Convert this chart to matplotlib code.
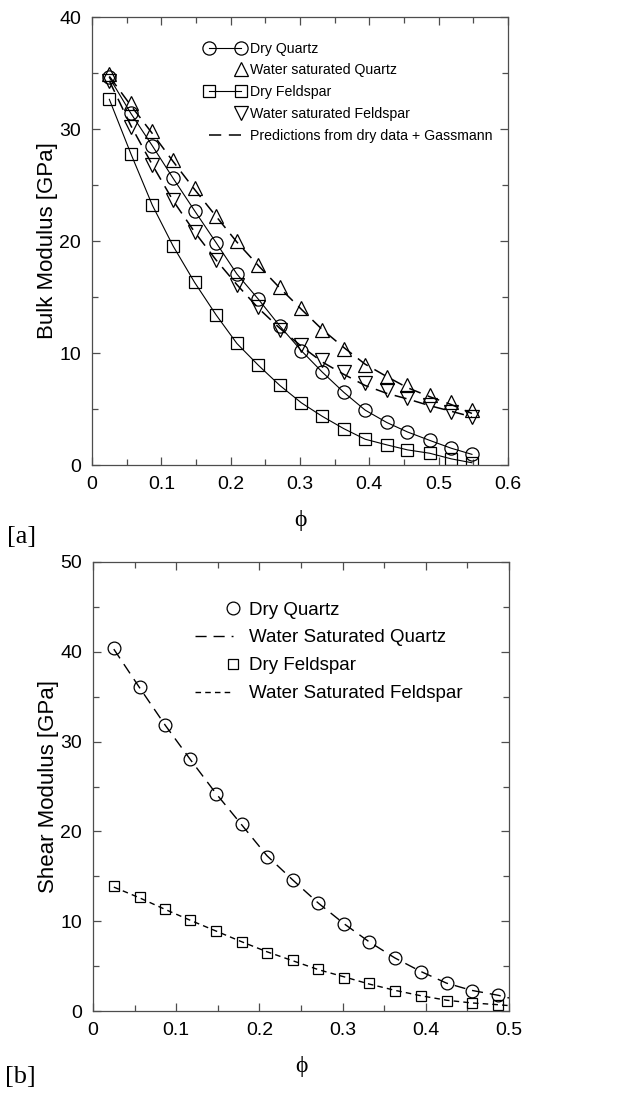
import numpy as np
import matplotlib
matplotlib.use('Agg')
from matplotlib import pyplot
from matplotlib.ticker import MultipleLocator, FormatStrFormatter
from matplotlib.legend_handler import HandlerLine2D


# (a) bulk modulus vs porosity
phi_a        = [0.025, 0.056, 0.087, 0.117, 0.148, 0.179, 0.209, 0.240, 0.271,
                0.302, 0.332, 0.363, 0.394, 0.425, 0.455, 0.487, 0.518, 0.548]
K_dry_qtz    = [34.6, 31.4, 28.5, 25.6, 22.7, 19.85, 17.05, 14.8, 12.4,
                10.2, 8.3, 6.5, 4.9, 3.8, 2.95, 2.2, 1.5, 0.95]
K_wet_qtz    = [34.9, 32.3, 29.8, 27.2, 24.7, 22.2, 20.0, 17.9, 15.9,
                14.0, 12.05, 10.4, 8.9, 7.9, 7.1, 6.25, 5.65, 4.9]
K_dry_fsp    = [32.65, 27.8, 23.2, 19.55, 16.3, 13.4, 10.85, 8.9, 7.1,
                5.55, 4.35, 3.25, 2.3, 1.8, 1.35, 1.05, 0.55, 0.2]
K_wet_fsp    = [34.3, 30.2, 26.8, 23.65, 20.8, 18.3, 16.1, 14.1, 12.05,
                10.7, 9.4, 8.3, 7.3, 6.7, 5.95, 5.35, 4.75, 4.3]
K_gass_qtz   = [34.7, 32.1, 29.6, 27.1, 24.6, 22.2, 19.9, 17.8, 15.8,
                13.9, 12.1, 10.5, 9.0, 7.9, 6.9, 6.1, 5.4, 4.6]
K_gass_fsp   = [34.3, 30.3, 26.8, 23.6, 20.8, 18.3, 16.1, 14.0, 12.2,
                10.6, 9.2, 8.1, 7.1, 6.4, 5.9, 5.3, 4.8, 4.3]

# (b) shear modulus vs porosity
phi_b        = [0.025, 0.056, 0.087, 0.117, 0.148, 0.179, 0.209, 0.240,
                0.271, 0.302, 0.332, 0.363, 0.394, 0.425, 0.455, 0.487]
phi_b_wet    = phi_b + [0.5]
G_dry_qtz    = [40.4, 36.1, 31.85, 28.1, 24.2, 20.8, 17.2, 14.6,
                12.0, 9.7, 7.7, 5.85, 4.3, 3.1, 2.25, 1.8]
G_dry_fsp    = [13.9, 12.65, 11.35, 10.1, 8.9, 7.7, 6.5, 5.7,
                4.65, 3.7, 3.1, 2.25, 1.7, 1.15, 0.85, 0.65]
G_wet_qtz    = [40.3, 36.0, 31.8, 28.0, 24.2, 20.7, 17.3, 14.6,
                12.0, 9.7, 7.7, 5.9, 4.4, 3.1, 2.3, 1.75, 1.45]
G_wet_fsp    = [13.8, 12.6, 11.3, 10.1, 8.9, 7.7, 6.6, 5.6,
                4.6, 3.8, 3.0, 2.3, 1.7, 1.2, 0.9, 0.7, 0.6]


class RightMarker(HandlerLine2D):
	# legend entry with a single marker at the right end of the handle
	def create_artists(self, *args, **kwargs):
		arts = super().create_artists(*args, **kwargs)
		arts[-1].set_markevery([1])
		return arts


sans   = ['Liberation Sans', 'DejaVu Sans']
serif  = ['Liberation Serif', 'DejaVu Serif']
spc    = '0.3'

pyplot.rcParams['font.family'] = sans
fig = pyplot.figure(figsize=(6.44, 10.93), dpi=100)
axa = fig.add_axes([92/644, 1-465/1093, 416/644, 448/1093])
axb = fig.add_axes([93/644, 1-1011/1093, 416/644, 449/1093])

def style(ax):
	for s in ax.spines.values():
		s.set_color(spc); s.set_linewidth(0.9)
	ax.tick_params(which='both', direction='in', top=True, right=True, color=spc, width=0.9)
	ax.tick_params(which='major', length=6, labelsize=14, pad=8)
	ax.tick_params(which='minor', length=4)
	ax.xaxis.set_major_formatter(FormatStrFormatter('%g'))
	ax.yaxis.set_major_formatter(FormatStrFormatter('%g'))
	ax.xaxis.set_major_locator(MultipleLocator(0.1))
	ax.xaxis.set_minor_locator(MultipleLocator(0.05))
	ax.yaxis.set_major_locator(MultipleLocator(10))
	ax.yaxis.set_minor_locator(MultipleLocator(5))

### panel (a)
mk = dict(mfc='none', mec='k', mew=0.9)
h1, = axa.plot(phi_a, K_dry_qtz, 'o-', color='k', lw=0.8, ms=9.5, label='Dry Quartz', **mk)
h2, = axa.plot(phi_a, K_wet_qtz, '^', ms=10, label='Water saturated Quartz', **mk)
h3, = axa.plot(phi_a, K_dry_fsp, 's-', color='k', lw=0.8, ms=8, label='Dry Feldspar', **mk)
h4, = axa.plot(phi_a, K_wet_fsp, 'v', ms=10, label='Water saturated Feldspar', **mk)
h5, = axa.plot(phi_a, K_gass_qtz, color='k', lw=1.1, dashes=(8, 5), label='Predictions from dry data + Gassmann')
axa.plot(phi_a, K_gass_fsp, color='k', lw=1.1, dashes=(8, 5))
style(axa)
axa.set_xlim(0, 0.6); axa.set_ylim(0, 40)
axa.set_ylabel('Bulk Modulus [GPa]', size=16, labelpad=1)
axa.set_xlabel('ϕ', size=17, family=serif, labelpad=12)
axa.legend(handles=[h1, h2, h3, h4, h5], loc='upper left', bbox_to_anchor=(0.272, 0.945),
           frameon=False, numpoints=2, handlelength=2.85, handletextpad=0.3, labelspacing=0.55,
           borderpad=0, borderaxespad=0, prop=dict(family=sans, size=10.2),
           handler_map={h2: RightMarker(), h4: RightMarker()})

### panel (b)
g1, = axb.plot(phi_b, G_dry_qtz, 'o', ms=9.2, label='Dry Quartz', **mk)
g2, = axb.plot(phi_b_wet, G_wet_qtz, color='k', lw=1.0, dashes=(8, 5), label='Water Saturated Quartz')
g3, = axb.plot(phi_b, G_dry_fsp, 's', ms=7.5, label='Dry Feldspar', **mk)
g4, = axb.plot(phi_b_wet, G_wet_fsp, color='k', lw=1.0, dashes=(4, 3), label='Water Saturated Feldspar')
style(axb)
axb.set_xlim(0, 0.5); axb.set_ylim(0, 50)
axb.set_ylabel('Shear Modulus [GPa]', size=16, labelpad=1)
axb.set_xlabel('ϕ', size=17, family=serif, labelpad=12)
axb.legend(handles=[g1, g2, g3, g4], loc='upper left', bbox_to_anchor=(0.232, 0.912),
           frameon=False, numpoints=2, handlelength=2.6, handletextpad=0.55, labelspacing=0.57,
           borderpad=0, borderaxespad=0, prop=dict(family=sans, size=13.5),
           handler_map={g1: RightMarker(), g3: RightMarker()})

fig.text(22/644, 1-537/1093, '[a]', family=serif, size=19, ha='center', va='center')
fig.text(20/644, 1-1077/1093, '[b]', family=serif, size=19, ha='center', va='center')

pyplot.savefig('out.png', dpi=100)
